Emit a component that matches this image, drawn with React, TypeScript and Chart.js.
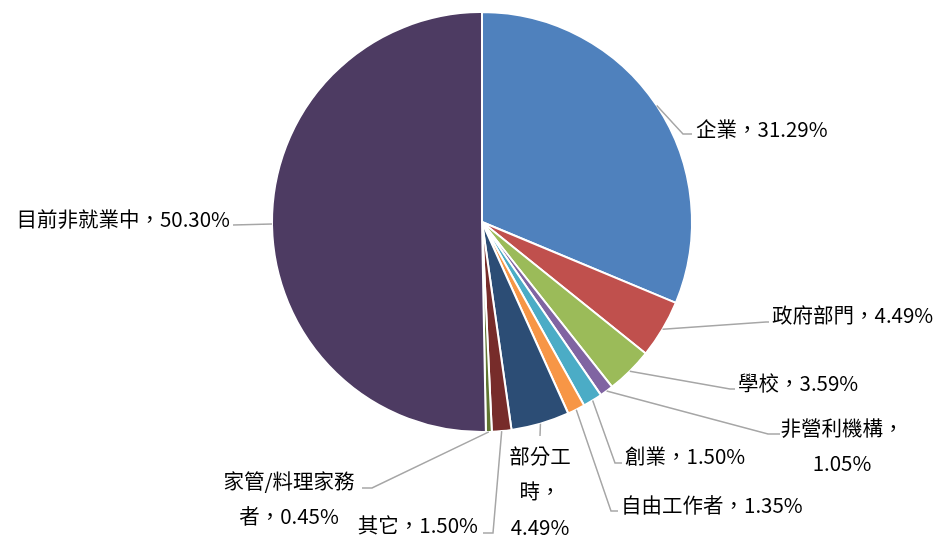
import React, { useEffect, useRef } from "react";
import { Chart, registerables } from "chart.js";

Chart.register(...registerables);

const categories = ["企業", "政府部門", "學校", "非營利機構", "創業", "自由工作者", "部分工時", "其它", "家管/料理家務者", "目前非就業中"];
const values = [31.29, 4.49, 3.59, 1.05, 1.5, 1.35, 4.49, 1.5, 0.45, 50.3];
const colors = ["#4F81BD", "#C0504D", "#9BBB59", "#8064A2", "#4BACC6", "#F79646", "#2C4D75", "#772C2A", "#5F7530", "#4D3B62"];

// label layout: text anchor, alignment, line breaks, leader elbow and end
const labelLayout = [
  { x: 696, y: 129, align: "left", breaks: [], ex: 683, ey: 134, endX: 692 },
  { x: 772, y: 315, align: "left", breaks: [], ex: 766, ey: 322, endX: 769 },
  { x: 738, y: 383, align: "left", breaks: [], ex: 730, ey: 389, endX: 735 },
  { x: 842, y: 428, align: "center", breaks: [6], ex: 768, ey: 434, endX: 780 },
  { x: 625, y: 456, align: "left", breaks: [], ex: 615, ey: 463, endX: 622 },
  { x: 621, y: 505, align: "left", breaks: [], ex: 611, ey: 511, endX: 618 },
  { x: 540, y: 456, align: "center", breaks: [3, 5], ex: 540, ey: 436, endX: 540 },
  { x: 478, y: 525, align: "right", breaks: [], ex: 493, ey: 533, endX: 483 },
  { x: 289, y: 481, align: "center", breaks: [7], ex: 372, ey: 488, endX: 362 },
  { x: 230, y: 219, align: "right", breaks: [], ex: 233, ey: 225, endX: 233 },
];

const FONT = '20.5px "Noto Sans CJK TC", "Noto Sans", sans-serif';

const labelPlugin = {
  id: "leaderLabels",
  afterDraw(chart: any) {
    const ctx = chart.ctx;
    const meta = chart.getDatasetMeta(0);
    ctx.save();
    try {
      (ctx as any).lang = "zh-TW";
    } catch (e) {}
    meta.data.forEach((arc: any, i: number) => {
      const p = arc.getProps(["x", "y", "startAngle", "endAngle", "outerRadius"], true);
      const mid = (p.startAngle + p.endAngle) / 2;
      const sx = p.x + Math.cos(mid) * p.outerRadius;
      const sy = p.y + Math.sin(mid) * p.outerRadius;
      const L = labelLayout[i];
      ctx.strokeStyle = "#A6A6A6";
      ctx.lineWidth = 1.5;
      ctx.beginPath();
      ctx.moveTo(sx, sy);
      ctx.lineTo(L.ex, L.ey);
      ctx.lineTo(L.endX, L.ey);
      ctx.stroke();

      const full = `${categories[i]}，${values[i].toFixed(2)}%`;
      const lines: string[] = [];
      let prev = 0;
      L.breaks.forEach((b: number) => {
        lines.push(full.slice(prev, b));
        prev = b;
      });
      lines.push(full.slice(prev));
      ctx.fillStyle = "#000000";
      ctx.font = FONT;
      ctx.textAlign = L.align;
      ctx.textBaseline = "middle";
      lines.forEach((t, k) => {
        ctx.fillText(t, L.x, L.y + k * 35.5);
      });
    });
    ctx.restore();
  },
};

export default function App() {
  const ref = useRef<HTMLCanvasElement>(null);
  useEffect(() => {
    document.documentElement.lang = "zh-TW";
    if (!ref.current) return;
    const chart = new Chart(ref.current, {
      type: "pie",
      data: {
        labels: categories,
        datasets: [
          {
            data: values,
            backgroundColor: colors,
            borderColor: "#FFFFFF",
            borderWidth: 2,
          },
        ],
      },
      options: {
        responsive: false,
        animation: false,
        radius: 210,
        layout: { padding: { left: 272, right: 259, top: 12, bottom: 110 } },
        plugins: {
          legend: { display: false },
          tooltip: { enabled: false },
        },
      } as any,
      plugins: [labelPlugin],
    });
    return () => chart.destroy();
  }, []);
  return (
    <div lang="zh-TW" style={{ position: "absolute", left: 0, top: 0, width: 951, height: 542, background: "#fff" }}>
      <canvas lang="zh-TW" ref={ref} width={951} height={542} style={{ display: "block" }} />
    </div>
  );
}
